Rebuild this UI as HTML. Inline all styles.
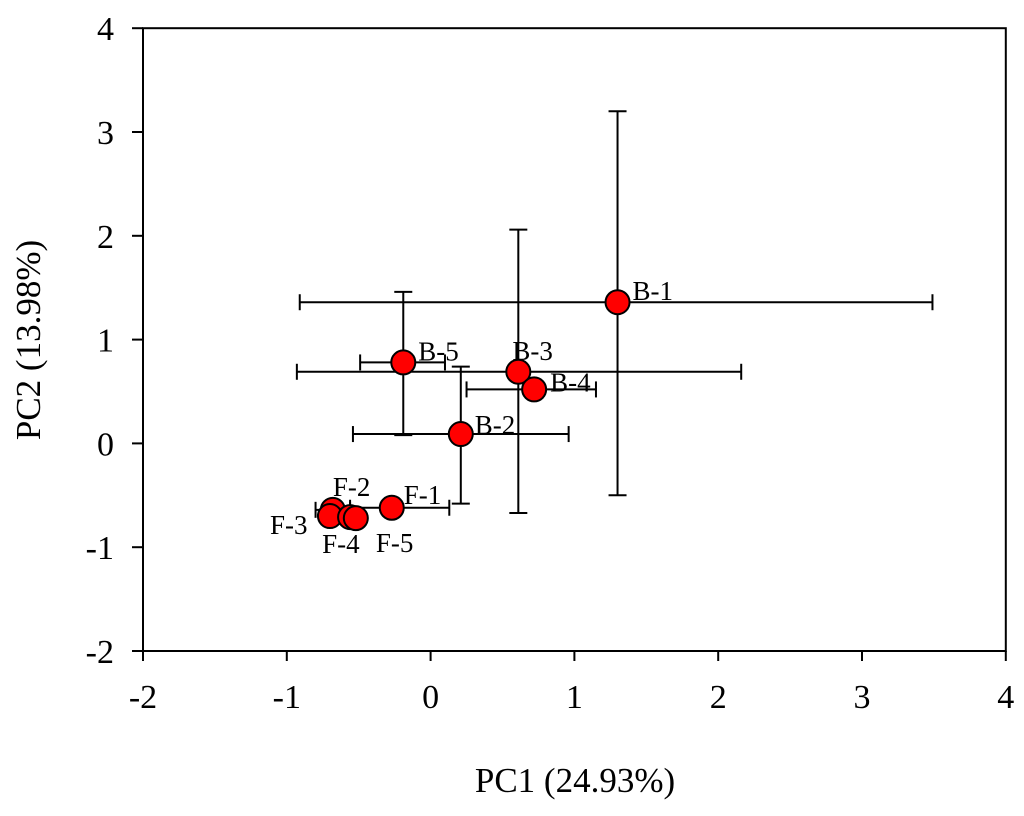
<!DOCTYPE html>
<html><head><meta charset="utf-8"><style>body{margin:0;background:#fff}svg text{font-family:"Liberation Serif",serif;fill:#000}</style></head>
<body>
<svg id="chart" width="1024" height="811" xmlns="http://www.w3.org/2000/svg"></svg>
<script>
const labels=["B-1","B-2","B-3","B-4","B-5","F-1","F-2","F-3","F-4","F-5"];
const pc1=[1.30,0.21,0.61,0.72,-0.19,-0.27,-0.68,-0.70,-0.56,-0.52];
const pc2=[1.36,0.09,0.69,0.52,0.78,-0.62,-0.64,-0.70,-0.71,-0.72];
const xErrLo=[-0.91,-0.54,-0.93,0.25,-0.49,-0.56,-0.80,-0.70,-0.56,-0.52];
const xErrHi=[3.49,0.96,2.16,1.15,0.10,0.13,-0.56,-0.70,-0.56,-0.52];
const yErrLo=[-0.50,-0.58,-0.67,0.44,0.08,-0.66,-0.64,-0.70,-0.71,-0.72];
const yErrHi=[3.20,0.74,2.06,0.60,1.46,-0.58,-0.64,-0.70,-0.71,-0.72];
const labelDx=[15,14,-6,16,15,12,0,-60,-28,20];
const labelDy=[-2,0,-12,2,-2,-4,-14,18,36,34];
const xTicks=[-2,-1,0,1,2,3,4];
const yTicks=[-2,-1,0,1,2,3,4];
const NS="http://www.w3.org/2000/svg";
const svg=document.getElementById('chart');
const X=v=>143+(v+2)*143.8, Y=v=>651-(v+2)*103.8;
function mk(t,a,p){const e=document.createElementNS(NS,t);for(const k in a)e.setAttribute(k,a[k]);(p||svg).appendChild(e);return e;}
const frame=mk('rect',{x:X(-2),y:Y(4),width:X(4)-X(-2),height:Y(-2)-Y(4),fill:'none',stroke:'#000','stroke-width':2});


const ax=mk('g',{});


xTicks.forEach(t=>{mk('line',{x1:X(t),x2:X(t),y1:651,y2:661,stroke:'#000','stroke-width':2},ax);
 const tx=mk('text',{x:X(t),y:708,'font-size':34,'text-anchor':'middle'},ax);tx.textContent=t;
 
 });
yTicks.forEach(t=>{mk('line',{x1:132,x2:143,y1:Y(t),y2:Y(t),stroke:'#000','stroke-width':2},ax);
 const tx=mk('text',{x:114,y:Y(t)+12,'font-size':34,'text-anchor':'end'},ax);tx.textContent=t;
 
 });
const xt=mk('text',{x:575,y:792,'font-size':35,'text-anchor':'middle'});xt.textContent='PC1 (24.93%)';


const yt=mk('text',{x:0,y:0,'font-size':35,'text-anchor':'middle',transform:'translate(40,340) rotate(-90)'});yt.textContent='PC2 (13.98%)';


const eg=mk('g',{stroke:'#000','stroke-width':2});


labels.forEach((l,i)=>{
 const cx=X(pc1[i]),cy=Y(pc2[i]);
 if(xErrHi[i]-xErrLo[i]>0.01){mk('line',{x1:X(xErrLo[i]),x2:X(xErrHi[i]),y1:cy,y2:cy},eg);
  [xErrLo[i],xErrHi[i]].forEach(v=>mk('line',{x1:X(v),x2:X(v),y1:cy-8,y2:cy+8},eg));}
 if(yErrHi[i]-yErrLo[i]>0.01){mk('line',{x1:cx,x2:cx,y1:Y(yErrLo[i]),y2:Y(yErrHi[i])},eg);
  [yErrLo[i],yErrHi[i]].forEach(v=>mk('line',{x1:cx-9,x2:cx+9,y1:Y(v),y2:Y(v)},eg));}
});
labels.forEach((l,i)=>{
 const c=mk('circle',{cx:X(pc1[i]),cy:Y(pc2[i]),r:12,fill:'#ff0000',stroke:'#000','stroke-width':2});
 
 
});
labels.forEach((l,i)=>{
 const t=mk('text',{x:X(pc1[i])+labelDx[i],y:Y(pc2[i])+labelDy[i],'font-size':27});t.textContent=l;
 
 
});
</script>
</body></html>
